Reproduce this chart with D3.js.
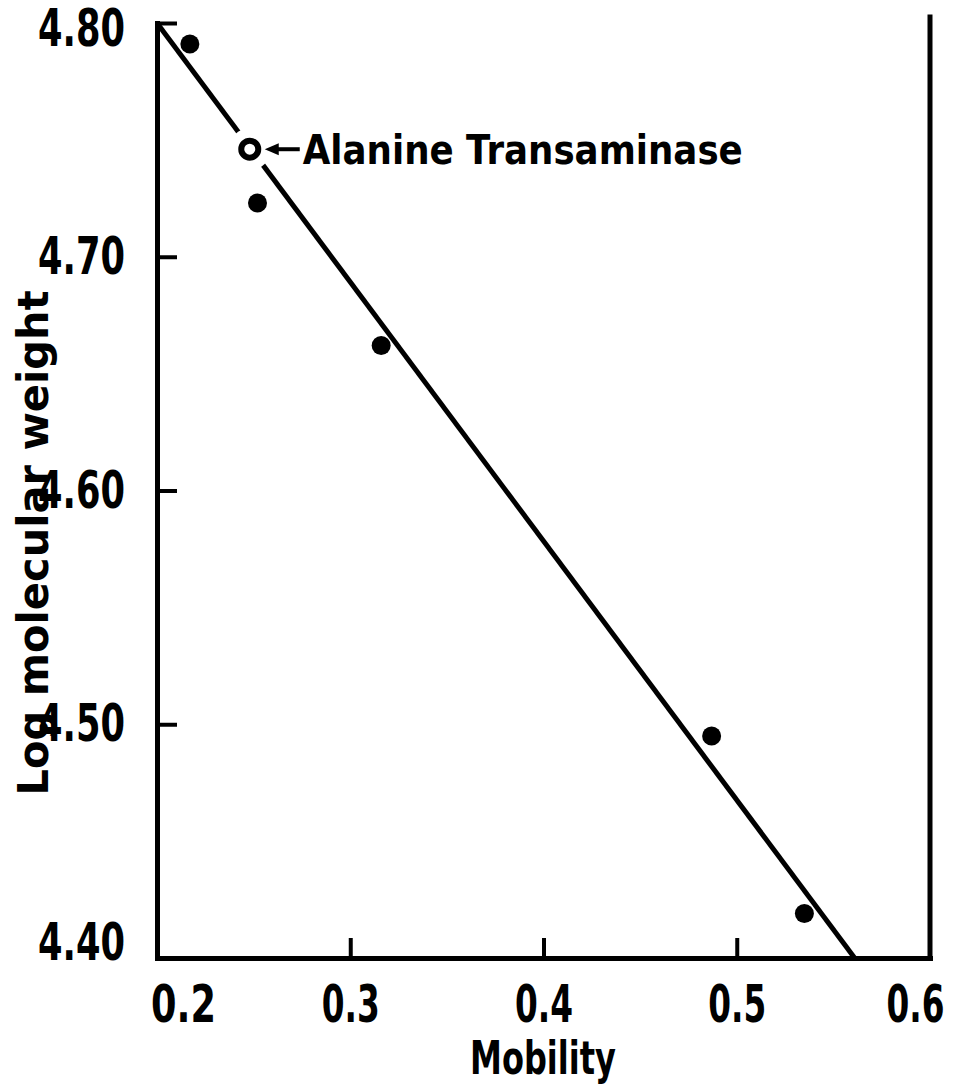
<!DOCTYPE html>
<html>
<head>
<meta charset="utf-8">
<script src="https://cdn.jsdelivr.net/npm/d3@7"></script>
<style>
  body { margin: 0; background: #fff; }
  svg { display: block; }
  text { font-family: "DejaVu Sans", "Liberation Sans", sans-serif; font-weight: bold; fill: #000; }
</style>
</head>
<body>
<div id="chart"></div>
<script>
// values
var mobility   = [0.217, 0.252, 0.316, 0.487, 0.535];
var logWeight  = [4.791, 4.723, 4.662, 4.495, 4.419];
var openMobility  = [0.248];
var openLogWeight = [4.746];
var openLabel = ["Alanine Transaminase"];
var fitMobility  = [0.2, 0.561];
var fitLogWeight = [4.80, 4.40];
var xTicks = [0.2, 0.3, 0.4, 0.5, 0.6];
var yTicks = [4.40, 4.50, 4.60, 4.70, 4.80];

var W = 953, H = 1091;

var x = d3.scaleLinear().domain([0.2, 0.6]).range([157, 930]);
var y = d3.scaleLinear().domain([4.40, 4.80]).range([958, 23]);

var svg = d3.select("#chart").append("svg")
    .attr("width", W)
    .attr("height", H);

// bottom axis, ticks point inward
var xAxis = svg.append("g")
    .attr("transform", "translate(0," + y(4.40) + ")")
    .call(d3.axisBottom(x).tickValues(xTicks).tickSize(-20).tickSizeOuter(0).tickPadding(27)
      .tickFormat(d3.format(".1f")));

// left axis
var yAxis = svg.append("g")
    .attr("transform", "translate(" + x(0.2) + ",0)")
    .call(d3.axisLeft(y).tickValues(yTicks).tickSize(-20).tickSizeOuter(0).tickPadding(32)
      .tickFormat(d3.format(".2f")));

[xAxis, yAxis].forEach(function(g) {
  g.select(".domain").attr("stroke", "#000").attr("stroke-width", 5).attr("stroke-linecap", "square");
  g.selectAll(".tick line").attr("stroke", "#000").attr("stroke-width", 4);
  g.selectAll(".tick text").attr("font-size", 52).attr("font-family", null).attr("fill", "#000")
      .attr("lengthAdjust", "spacingAndGlyphs");
});

// condensed look: squeeze labels to the printed widths
xAxis.selectAll(".tick text")
    .attr("textLength", function(d) { return d === 0.2 ? 65 : 58; })
    .attr("dx", function(d) { return d === 0.2 ? 26 : (d === 0.6 ? -15 : 0); });
yAxis.selectAll(".tick text")
    .attr("textLength", 87)
    .attr("dy", function(d) {
      return d === 4.40 ? "0.02em" : (d === 4.80 ? "0.44em" : "0.32em");
    });
// no tick drawn where the borders stand
xAxis.selectAll(".tick line").filter(function(d) { return d === 0.2 || d === 0.6; }).remove();
yAxis.selectAll(".tick line").filter(function(d) { return d === 4.40; }).remove();

// right border (a bit taller than the plot, as in the print)
svg.append("line")
    .attr("x1", x(0.6)).attr("x2", x(0.6))
    .attr("y1", y(4.80) - 6).attr("y2", y(4.40))
    .attr("stroke", "#000").attr("stroke-width", 5).attr("stroke-linecap", "square");

// fitted line
var line = d3.line()
    .x(function(d) { return x(d[0]); })
    .y(function(d) { return y(d[1]); });
svg.append("path")
    .datum(d3.zip(fitMobility, fitLogWeight))
    .attr("d", line)
    .attr("fill", "none")
    .attr("stroke", "#000")
    .attr("stroke-width", 5);

// filled points
svg.selectAll("circle.pt")
    .data(d3.zip(mobility, logWeight))
    .enter().append("circle")
    .attr("class", "pt")
    .attr("cx", function(d) { return x(d[0]); })
    .attr("cy", function(d) { return y(d[1]); })
    .attr("r", 9.5)
    .attr("fill", "#000");

// open point: white halo breaks the line around it
var open = d3.zip(openMobility, openLogWeight);
svg.selectAll("circle.halo")
    .data(open)
    .enter().append("circle")
    .attr("class", "halo")
    .attr("cx", function(d) { return x(d[0]); })
    .attr("cy", function(d) { return y(d[1]); })
    .attr("r", 21)
    .attr("fill", "#fff");
svg.selectAll("circle.open")
    .data(open)
    .enter().append("circle")
    .attr("class", "open")
    .attr("cx", function(d) { return x(d[0]); })
    .attr("cy", function(d) { return y(d[1]); })
    .attr("r", 8.5)
    .attr("fill", "#fff")
    .attr("stroke", "#000")
    .attr("stroke-width", 6);

// arrow + label
open.forEach(function(d, i) {
  var cx = x(d[0]), cy = y(d[1]);
  svg.append("line")
      .attr("x1", cx + 24).attr("x2", cx + 50)
      .attr("y1", cy).attr("y2", cy)
      .attr("stroke", "#000").attr("stroke-width", 4);
  svg.append("path")
      .attr("d", "M" + (cx + 15) + "," + cy + " L" + (cx + 29) + "," + (cy - 6) +
                 " L" + (cx + 29) + "," + (cy + 6) + " Z")
      .attr("fill", "#000");
  svg.append("text")
      .attr("x", cx + 53)
      .attr("y", cy + 15)
      .attr("font-size", 41)
      .attr("textLength", 440)
      .attr("lengthAdjust", "spacingAndGlyphs")
      .text(openLabel[i]);
});

// axis titles
svg.append("text")
    .attr("x", 543)
    .attr("y", 1074)
    .attr("text-anchor", "middle")
    .attr("font-size", 46)
    .attr("textLength", 146)
    .attr("lengthAdjust", "spacingAndGlyphs")
    .text("Mobility");

svg.append("text")
    .attr("transform", "translate(48," + 543 + ") rotate(-90)")
    .attr("text-anchor", "middle")
    .attr("font-size", 42)
    .attr("textLength", 505)
    .attr("lengthAdjust", "spacingAndGlyphs")
    .text("Log molecular weight");
</script>
</body>
</html>
